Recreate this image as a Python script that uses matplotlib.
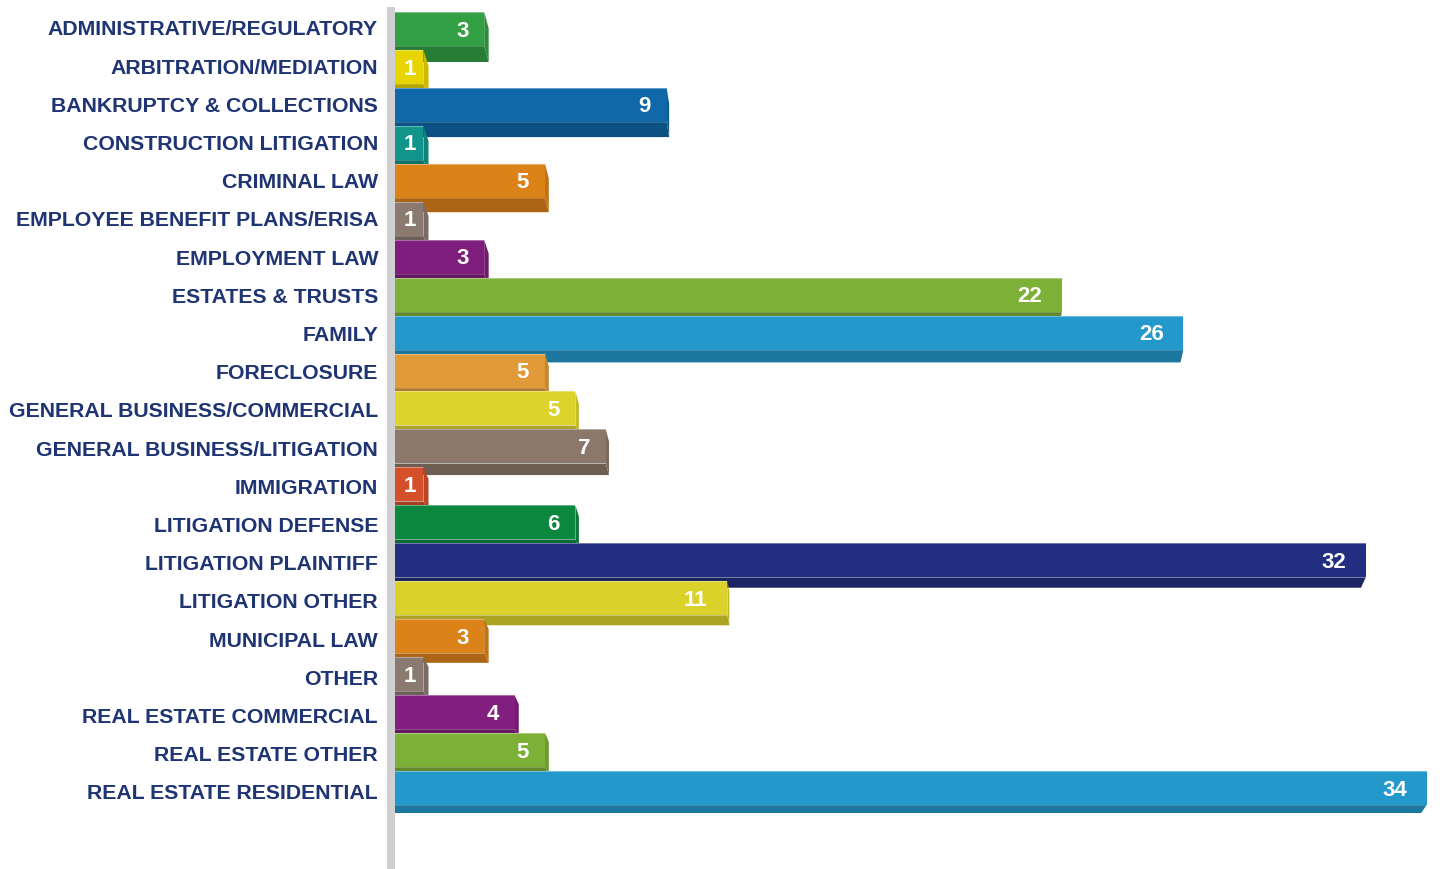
import matplotlib
matplotlib.use("Agg")
import matplotlib.pyplot as plt
from matplotlib.patches import Polygon
from matplotlib.colors import to_rgb

categories = [
    "ADMINISTRATIVE/REGULATORY", "ARBITRATION/MEDIATION", "BANKRUPTCY & COLLECTIONS",
    "CONSTRUCTION LITIGATION", "CRIMINAL LAW", "EMPLOYEE BENEFIT PLANS/ERISA",
    "EMPLOYMENT LAW", "ESTATES & TRUSTS", "FAMILY", "FORECLOSURE",
    "GENERAL BUSINESS/COMMERCIAL", "GENERAL BUSINESS/LITIGATION", "IMMIGRATION",
    "LITIGATION DEFENSE", "LITIGATION PLAINTIFF", "LITIGATION OTHER", "MUNICIPAL LAW",
    "OTHER", "REAL ESTATE COMMERCIAL", "REAL ESTATE OTHER", "REAL ESTATE RESIDENTIAL",
]
# bar lengths as drawn in the picture
values = [3, 1, 9, 1, 5, 1, 3, 22, 26, 5, 6, 7, 1, 6, 32, 11, 3, 1, 4, 5, 34]
# printed value labels (the picture labels one 6-long bar as "5")
value_labels = ["3", "1", "9", "1", "5", "1", "3", "22", "26", "5", "5", "7", "1", "6",
                "32", "11", "3", "1", "4", "5", "34"]
face_colors = [
    "#33a045", "#e6d500", "#1068a8", "#11958a", "#db8219", "#8a7a70",
    "#7f1d7d", "#7db037", "#2398ca", "#e09a38", "#dcd42c", "#8b786b",
    "#d4502a", "#0c873f", "#222e7f", "#dbd12b", "#db8219", "#8a7a70",
    "#821e7e", "#7db037", "#2398ca",
]

LABEL_COLOR = "#1f3473"
W, H = 1452, 869
fig = plt.figure(figsize=(W / 100, H / 100), dpi=100)
x0_px = 393
px_per_unit = 30.4
row_px = 37.95
first_center_px = 29
ax = fig.add_axes([x0_px / W, 0, 1 - x0_px / W, 1])
ax.set_xlim(0, (W - x0_px) / px_per_unit)
ytop = -first_center_px / row_px
ax.set_ylim(ytop + H / row_px, ytop)
ax.axis("off")

bar_h = 34 / row_px
k = 0.0105
vp_x = 17.0
vp_y = (1570 - first_center_px) / row_px
label_row_px = 38.2
label_first_px = 30


def darker(c, f):
    r, g, b = to_rgb(c)
    return (r * f, g * f, b * f)


for i, (v, c) in enumerate(zip(values, face_colors)):
    yt = i - bar_h / 2
    yb = i + bar_h / 2
    dyb = k * (vp_y - yb)
    dyt = k * (vp_y - yt)
    dxv = k * (vp_x - v)
    z = 10 + i * 4
    # bottom face
    bottom = Polygon([(-1, yb), (v, yb), (v + dxv, yb + dyb), (-1, yb + dyb)],
                     closed=True, facecolor=darker(c, 0.78), edgecolor="none", zorder=z)
    ax.add_patch(bottom)
    # right side face
    if dxv > 0:
        side = Polygon([(v, yt), (v, yb), (v + dxv, yb + dyb), (v + dxv, yt + dyt)],
                       closed=True, facecolor=darker(c, 0.88), edgecolor="none", zorder=z + 1)
        ax.add_patch(side)
    # front face
    ax.barh(i, v, height=bar_h, left=0, color=c, zorder=z + 2)
    # subtle highlight lines
    ax.plot([0, v], [yt, yt], color="white", alpha=0.35, lw=0.8, zorder=z + 3, solid_capstyle="butt")
    ax.plot([0, v], [yb, yb], color="white", alpha=0.2, lw=0.6, zorder=z + 3, solid_capstyle="butt")
    # value label
    txt = value_labels[i]
    if v == 1:
        x_anchor, off_px = v * 0.56, 0
    else:
        x_anchor, off_px = v, (22 if len(txt) == 1 else 32)
    ax.annotate(txt, xy=(x_anchor, i), xytext=(-off_px * 0.72, -1.5),
                textcoords="offset points", ha="center", va="center",
                color="white", fontsize=16, fontweight="bold",
                family="Liberation Sans", zorder=z + 3)
    # category label
    ly = (label_first_px + label_row_px * i - first_center_px) / row_px
    ax.annotate(categories[i], xy=(0, ly), xytext=(-15 * 0.72, 0),
                textcoords="offset points", ha="right", va="center",
                color=LABEL_COLOR, fontsize=15.35, fontweight="bold",
                family="Liberation Sans", annotation_clip=False)

# vertical gray axis bar
ax.axvline(-2 / px_per_unit, ymin=0, ymax=1 - 7 / H, color="#d0d0d3",
           lw=8 * 0.72, clip_on=False, zorder=200, solid_capstyle="butt")

fig.savefig("out.png", dpi=100)
